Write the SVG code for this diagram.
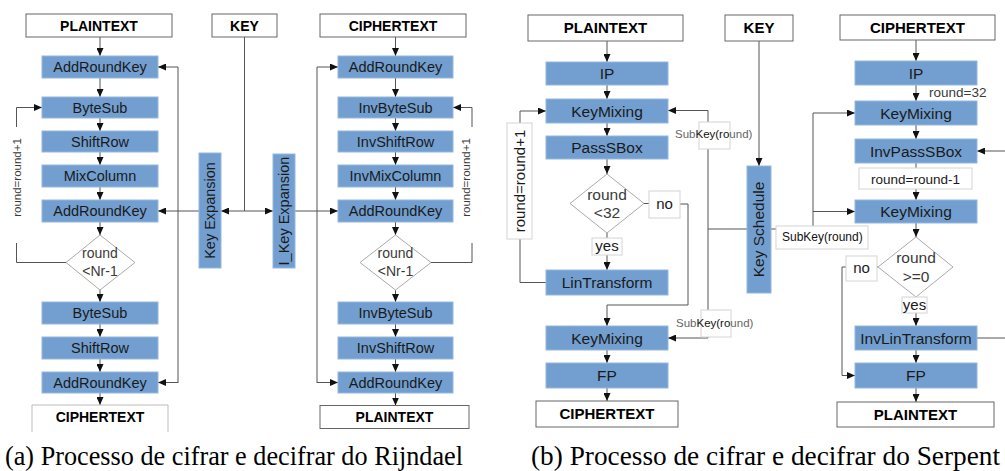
<svg xmlns="http://www.w3.org/2000/svg" width="1005" height="471" viewBox="0 0 1005 471">
  <defs>
    <marker id="ah" markerUnits="userSpaceOnUse" markerWidth="8" markerHeight="7" refX="8" refY="3.5" orient="auto">
      <path d="M0,0 L8,3.5 L0,7 z" fill="#111"/>
    </marker>
    <style>
      .blk{fill:#729fcf;stroke:#95b7de;stroke-width:1}
      .wbox{fill:#fff;stroke:#666;stroke-width:1}
      .lbl{fill:#fff;stroke:#d4d4d4;stroke-width:1}
      .dia{fill:#fff;stroke:#aaa;stroke-width:1}
      .t{font-family:"Liberation Sans",Arial,sans-serif;text-anchor:middle;fill:#1a1a1a}
      .r14{font-size:14.5px}
      .s15{font-size:15.5px}
      .b14{font-size:14px;font-weight:bold;fill:#000}
      .b15{font-size:15px;font-weight:bold;fill:#000}
      .g{fill:#3a3a3a}
      .ln{fill:none;stroke:#555;stroke-width:1}
      .arr{marker-end:url(#ah)}
      .cap{font-family:"Liberation Serif","Times New Roman",serif;font-size:26.5px;fill:#000}
    </style>
  </defs>

  <!-- ===== Rijndael: connectors ===== -->
  <g id="rijndael-connectors">
    <path class="ln arr" d="M100,37 V56"/>
    <path class="ln arr" d="M100,78 V97"/>
    <path class="ln arr" d="M100,118 V131"/>
    <path class="ln arr" d="M100,152 V165"/>
    <path class="ln arr" d="M100,187 V200"/>
    <path class="ln arr" d="M100,222 V235"/>
    <path class="ln arr" d="M100,290 V302"/>
    <path class="ln arr" d="M100,324 V337"/>
    <path class="ln arr" d="M100,359 V372"/>
    <path class="ln arr" d="M100,393 V405"/>
    <!-- round loop (cipher) -->
    <path class="ln" d="M66,262.5 H16.5 V243"/>
    <path class="ln arr" d="M16.5,127 V107.5 H42"/>
    <!-- key distribution -->
    <path class="ln" d="M244.5,37 V211"/>
    <path class="ln arr" d="M244.5,211 H221"/>
    <path class="ln arr" d="M244.5,211 H273"/>
    <path class="ln arr" d="M199,211 H158"/>
    <path class="ln" d="M178,67 V383"/>
    <path class="ln arr" d="M178,67 H158"/>
    <path class="ln arr" d="M178,382.5 H158"/>
    <path class="ln arr" d="M295,211 H338"/>
    <path class="ln" d="M317,67 V383"/>
    <path class="ln arr" d="M317,67 H338"/>
    <path class="ln arr" d="M317,382.5 H338"/>
    <!-- decipher column -->
    <path class="ln arr" d="M395.5,37 V56"/>
    <path class="ln arr" d="M395.5,78 V97"/>
    <path class="ln arr" d="M395.5,118 V131"/>
    <path class="ln arr" d="M395.5,152 V165"/>
    <path class="ln arr" d="M395.5,187 V200"/>
    <path class="ln arr" d="M395.5,222 V235"/>
    <path class="ln arr" d="M395.5,290 V302"/>
    <path class="ln arr" d="M395.5,324 V337"/>
    <path class="ln arr" d="M395.5,359 V372"/>
    <path class="ln arr" d="M395.5,393 V405.5"/>
    <!-- round loop (decipher) -->
    <path class="ln" d="M431,262.5 H472 V243"/>
    <path class="ln arr" d="M472,127 V107.5 H453"/>
  </g>

  <!-- ===== Rijndael: cipher column ===== -->
  <g id="r-plaintext"><rect class="wbox" x="26" y="14" width="146" height="23"/><text class="t b14" x="99" y="31">PLAINTEXT</text></g>
  <g id="r-ark1"><rect class="blk" x="42" y="56" width="116" height="22"/><text class="t r14" x="100" y="72">AddRoundKey</text></g>
  <g id="r-bytesub1"><rect class="blk" x="42" y="97" width="116" height="21"/><text class="t r14" x="100" y="112.5">ByteSub</text></g>
  <g id="r-shiftrow1"><rect class="blk" x="42" y="131" width="116" height="21"/><text class="t r14" x="100" y="146.5">ShiftRow</text></g>
  <g id="r-mixcolumn"><rect class="blk" x="42" y="165" width="116" height="22"/><text class="t r14" x="100" y="181">MixColumn</text></g>
  <g id="r-ark2"><rect class="blk" x="42" y="200" width="116" height="22"/><text class="t r14" x="100" y="216">AddRoundKey</text></g>
  <g id="r-cond1"><polygon class="dia" points="100,235 135,262.5 100,290 66,262.5"/><text class="t g" font-size="14" x="100" y="258">round</text><text class="t g" font-size="14" x="100" y="276">&lt;Nr-1</text></g>
  <g id="r-bytesub2"><rect class="blk" x="42" y="302" width="116" height="22"/><text class="t r14" x="100" y="318">ByteSub</text></g>
  <g id="r-shiftrow2"><rect class="blk" x="42" y="337" width="116" height="22"/><text class="t r14" x="100" y="353">ShiftRow</text></g>
  <g id="r-ark3"><rect class="blk" x="42" y="372" width="116" height="21"/><text class="t r14" x="100" y="387.5">AddRoundKey</text></g>
  <g id="r-ciphertext"><path d="M32,432 V405 H168 V432" fill="#fff" stroke="#bbb"/><text class="t b14" x="100" y="421.5">CIPHERTEXT</text></g>
  <g id="r-inc1"><text class="t g" font-size="11.5" transform="translate(21,177.5) rotate(-90)">round=round+1</text></g>

  <!-- ===== Rijndael: key ===== -->
  <g id="r-key"><rect class="wbox" x="212" y="14" width="65" height="23"/><text class="t b14" x="244.5" y="31">KEY</text></g>
  <g id="r-keyexp"><rect class="blk" x="199" y="153" width="22" height="115"/><text class="t r14" transform="translate(215,210.5) rotate(-90)">Key Expansion</text></g>
  <g id="r-ikeyexp"><rect class="blk" x="273" y="154" width="22" height="114"/><text class="t r14" transform="translate(289,211) rotate(-90)">I_Key Expansion</text></g>

  <!-- ===== Rijndael: decipher column ===== -->
  <g id="r-ciphertext-in"><rect class="wbox" x="320" y="14" width="146" height="23"/><text class="t b14" x="393" y="31">CIPHERTEXT</text></g>
  <g id="r-iark1"><rect class="blk" x="338" y="56" width="115" height="22"/><text class="t r14" x="395.5" y="72">AddRoundKey</text></g>
  <g id="r-invbytesub1"><rect class="blk" x="338" y="97" width="115" height="21"/><text class="t r14" x="395.5" y="112.5">InvByteSub</text></g>
  <g id="r-invshiftrow1"><rect class="blk" x="338" y="131" width="115" height="21"/><text class="t r14" x="395.5" y="146.5">InvShiftRow</text></g>
  <g id="r-invmixcolumn"><rect class="blk" x="338" y="165" width="115" height="22"/><text class="t r14" x="395.5" y="181">InvMixColumn</text></g>
  <g id="r-iark2"><rect class="blk" x="338" y="200" width="115" height="22"/><text class="t r14" x="395.5" y="216">AddRoundKey</text></g>
  <g id="r-cond2"><polygon class="dia" points="395.5,235 431,262.5 395.5,290 360,262.5"/><text class="t g" font-size="14" x="395.5" y="258">round</text><text class="t g" font-size="14" x="395.5" y="276">&lt;Nr-1</text></g>
  <g id="r-invbytesub2"><rect class="blk" x="338" y="302" width="115" height="22"/><text class="t r14" x="395.5" y="318">InvByteSub</text></g>
  <g id="r-invshiftrow2"><rect class="blk" x="338" y="337" width="115" height="22"/><text class="t r14" x="395.5" y="353">InvShiftRow</text></g>
  <g id="r-iark3"><rect class="blk" x="338" y="372" width="115" height="21"/><text class="t r14" x="395.5" y="387.5">AddRoundKey</text></g>
  <g id="r-plaintext-out"><rect class="wbox" x="320" y="405.5" width="149" height="23"/><text class="t b14" x="394.5" y="422">PLAINTEXT</text></g>
  <g id="r-inc2"><text class="t g" font-size="11.5" transform="translate(470,177.5) rotate(-90)">round=round+1</text></g>

  <!-- ===== Serpent: connectors ===== -->
  <g id="serpent-connectors">
    <path class="ln arr" d="M607,41 V62"/>
    <path class="ln arr" d="M607,85 V99"/>
    <path class="ln arr" d="M607,123 V136"/>
    <path class="ln arr" d="M607,159 V174"/>
    <path class="ln" d="M607,233 V238"/>
    <path class="ln arr" d="M607,255 V270"/>
    <path class="ln" d="M644,203.5 H649"/>
    <path class="ln arr" d="M680,204 H688 V305 H607 V326"/>
    <path class="ln" d="M546,282.5 H520 V239"/>
    <path class="ln arr" d="M520,123 V111 H546"/>
    <path class="ln arr" d="M607,350 V363"/>
    <path class="ln arr" d="M607,388 V401"/>
    <!-- key schedule -->
    <path class="ln arr" d="M759,41 V166"/>
    <path class="ln" d="M747,229 H708"/>
    <path class="ln" d="M708,110.5 V338"/>
    <path class="ln arr" d="M708,110.5 H668"/>
    <path class="ln arr" d="M708,338 H668"/>
    <path class="ln" d="M771,229 H776"/>
    <path class="ln" d="M813,226 V113"/>
    <path class="ln arr" d="M813,113 H855"/>
    <path class="ln arr" d="M813,211.5 H855"/>
    <!-- decipher column -->
    <path class="ln arr" d="M916,40 V61"/>
    <path class="ln arr" d="M916,85 V101"/>
    <path class="ln arr" d="M916,125 V139"/>
    <path class="ln" d="M916,163 V168"/>
    <path class="ln arr" d="M916,189 V200"/>
    <path class="ln arr" d="M916,223 V237"/>
    <path class="ln arr" d="M916,313 V326"/>
    <path class="ln arr" d="M916,350 V363"/>
    <path class="ln arr" d="M916,388 V402"/>
    <path class="ln" d="M878,267 H877"/>
    <path class="ln arr" d="M846,267 H842 V375.5 H855"/>
    <path class="ln" d="M977,338 H1005"/>
    <path class="ln arr" d="M1005,151 H977"/>
  </g>

  <!-- ===== Serpent: cipher column ===== -->
  <g id="s-plaintext"><rect class="wbox" x="528" y="15" width="155" height="26"/><text class="t b15" x="605.5" y="32.5">PLAINTEXT</text></g>
  <g id="s-ip"><rect class="blk" x="546" y="62" width="122" height="23"/><text class="t s15" x="607" y="79">IP</text></g>
  <g id="s-keymix1"><rect class="blk" x="546" y="99" width="122" height="24"/><text class="t s15" x="607" y="116.5">KeyMixing</text></g>
  <g id="s-passsbox"><rect class="blk" x="546" y="136" width="122" height="23"/><text class="t s15" x="607" y="153">PassSBox</text></g>
  <g id="s-cond1"><polygon class="dia" points="607,174 644,203.5 607,233 570,203.5"/><text class="t g" font-size="15.5" x="607" y="200">round</text><text class="t g" font-size="15.5" x="607" y="218">&lt;32</text></g>
  <g id="s-yes1"><rect class="lbl" x="592" y="238" width="30" height="17"/><text class="t" font-size="15" x="607" y="251">yes</text></g>
  <g id="s-no1"><rect class="lbl" x="649" y="191" width="31" height="27"/><text class="t" font-size="15" x="664.5" y="208.5">no</text></g>
  <g id="s-lintransform"><rect class="blk" x="546" y="270" width="122" height="25"/><text class="t s15" x="607" y="288">LinTransform</text></g>
  <g id="s-keymix2"><rect class="blk" x="546" y="326" width="122" height="24"/><text class="t s15" x="607" y="343.5">KeyMixing</text></g>
  <g id="s-fp"><rect class="blk" x="546" y="363" width="122" height="25"/><text class="t s15" x="607" y="381">FP</text></g>
  <g id="s-ciphertext"><rect class="wbox" x="536" y="401" width="142" height="26"/><text class="t b15" x="607" y="418.5">CIPHERTEXT</text></g>
  <g id="s-inc"><rect class="lbl" x="507" y="123" width="25" height="116"/><text class="t" font-size="15" transform="translate(525,181) rotate(-90)">round=round+1</text></g>

  <!-- ===== Serpent: key schedule ===== -->
  <g id="s-key"><rect class="wbox" x="725" y="15" width="68" height="26"/><text class="t b15" x="759" y="33">KEY</text></g>
  <g id="s-keyschedule"><rect class="blk" x="747" y="166" width="24" height="127"/><text class="t s15" transform="translate(764,229.5) rotate(-90)">Key Schedule</text></g>
  <g id="s-subkey1"><rect class="lbl" x="699" y="122" width="31" height="27"/><text font-family="Liberation Sans, Arial, sans-serif" font-size="11.5" x="675" y="137.5"><tspan fill="#666">Sub</tspan><tspan fill="#111">Key(ro</tspan><tspan fill="#666">und)</tspan></text></g>
  <g id="s-subkey2"><rect class="lbl" x="701" y="310" width="30" height="27"/><text font-family="Liberation Sans, Arial, sans-serif" font-size="11.5" x="676" y="326.5"><tspan fill="#666">Sub</tspan><tspan fill="#111">Key(ro</tspan><tspan fill="#666">und)</tspan></text></g>
  <g id="s-subkey3"><rect class="lbl" x="776" y="226" width="92" height="23"/><text font-family="Liberation Sans, Arial, sans-serif" font-size="12" fill="#111" x="782" y="240.5">SubKey(round)</text></g>

  <!-- ===== Serpent: decipher column ===== -->
  <g id="s-ciphertext-in"><rect class="wbox" x="840" y="15" width="155" height="25"/><text class="t b15" x="917.5" y="33">CIPHERTEXT</text></g>
  <g id="s-iip"><rect class="blk" x="855" y="61" width="122" height="24"/><text class="t s15" x="916" y="78.5">IP</text></g>
  <g id="s-init"><text font-family="Liberation Sans, Arial, sans-serif" font-size="13.5" fill="#3a3a3a" x="929" y="96.5">round=32</text></g>
  <g id="s-ikeymix1"><rect class="blk" x="855" y="101" width="122" height="24"/><text class="t s15" x="916" y="118.5">KeyMixing</text></g>
  <g id="s-invpasssbox"><rect class="blk" x="855" y="139" width="122" height="24"/><text class="t s15" x="916" y="156.5">InvPassSBox</text></g>
  <g id="s-dec"><rect class="lbl" x="859" y="168" width="113" height="21"/><text class="t" font-size="13.5" x="915.5" y="184">round=round-1</text></g>
  <g id="s-ikeymix2"><rect class="blk" x="855" y="200" width="122" height="23"/><text class="t s15" x="916" y="217">KeyMixing</text></g>
  <g id="s-cond2"><polygon class="dia" points="916,237 953,267 916,297 878,267"/><text class="t g" font-size="15.5" x="916" y="263">round</text><text class="t g" font-size="15.5" x="916" y="282">&gt;=0</text></g>
  <g id="s-yes2"><rect class="lbl" x="902" y="297" width="25" height="16"/><text class="t" font-size="15" x="914.5" y="309.5">yes</text></g>
  <g id="s-no2"><rect class="lbl" x="846" y="256" width="31" height="25"/><text class="t" font-size="15" x="861.5" y="273">no</text></g>
  <g id="s-invlintransform"><rect class="blk" x="855" y="326" width="122" height="24"/><text class="t s15" x="916" y="343.5">InvLinTransform</text></g>
  <g id="s-ifp"><rect class="blk" x="855" y="363" width="122" height="25"/><text class="t s15" x="916" y="381">FP</text></g>
  <g id="s-plaintext-out"><rect class="wbox" x="837" y="402" width="157" height="25"/><text class="t b15" x="915.5" y="420">PLAINTEXT</text></g>

  <!-- ===== captions ===== -->
  <text class="cap" x="5" y="465" textLength="458" lengthAdjust="spacingAndGlyphs">(a) Processo de cifrar e decifrar do Rijndael</text>
  <text class="cap" x="531" y="465" textLength="469" lengthAdjust="spacingAndGlyphs">(b) Processo de cifrar e decifrar do Serpent</text>
</svg>
